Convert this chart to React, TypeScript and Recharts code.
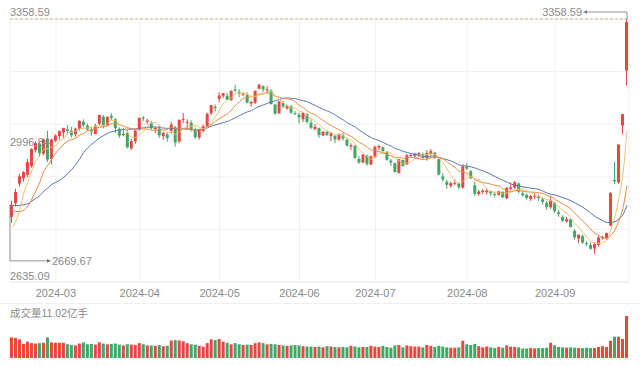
import React from 'react';
import {
  ComposedChart,
  BarChart,
  Bar,
  Line,
  XAxis,
  YAxis,
  CartesianGrid,
  ReferenceLine,
  ReferenceDot,
} from 'recharts';

// 上证指数 日K 2024-02-07 ~ 2024-09-30
const dates = [
  '2024-02-07', '2024-02-08', '2024-02-19', '2024-02-20', '2024-02-21', '2024-02-22', '2024-02-23', '2024-02-26', '2024-02-27', '2024-02-28', '2024-02-29',
  '2024-03-01', '2024-03-04', '2024-03-05', '2024-03-06', '2024-03-07', '2024-03-08', '2024-03-11', '2024-03-12', '2024-03-13', '2024-03-14', '2024-03-15', '2024-03-18', '2024-03-19', '2024-03-20', '2024-03-21', '2024-03-22', '2024-03-25', '2024-03-26', '2024-03-27', '2024-03-28', '2024-03-29',
  '2024-04-01', '2024-04-02', '2024-04-03', '2024-04-08', '2024-04-09', '2024-04-10', '2024-04-11', '2024-04-12', '2024-04-15', '2024-04-16', '2024-04-17', '2024-04-18', '2024-04-19', '2024-04-22', '2024-04-23', '2024-04-24', '2024-04-25', '2024-04-26', '2024-04-29', '2024-04-30',
  '2024-05-06', '2024-05-07', '2024-05-08', '2024-05-09', '2024-05-10', '2024-05-13', '2024-05-14', '2024-05-15', '2024-05-16', '2024-05-17', '2024-05-20', '2024-05-21', '2024-05-22', '2024-05-23', '2024-05-24', '2024-05-27', '2024-05-28', '2024-05-29', '2024-05-30', '2024-05-31',
  '2024-06-03', '2024-06-04', '2024-06-05', '2024-06-06', '2024-06-07', '2024-06-11', '2024-06-12', '2024-06-13', '2024-06-14', '2024-06-17', '2024-06-18', '2024-06-19', '2024-06-20', '2024-06-21', '2024-06-24', '2024-06-25', '2024-06-26', '2024-06-27', '2024-06-28',
  '2024-07-01', '2024-07-02', '2024-07-03', '2024-07-04', '2024-07-05', '2024-07-08', '2024-07-09', '2024-07-10', '2024-07-11', '2024-07-12', '2024-07-15', '2024-07-16', '2024-07-17', '2024-07-18', '2024-07-19', '2024-07-22', '2024-07-23', '2024-07-24', '2024-07-25', '2024-07-26', '2024-07-29', '2024-07-30', '2024-07-31',
  '2024-08-01', '2024-08-02', '2024-08-05', '2024-08-06', '2024-08-07', '2024-08-08', '2024-08-09', '2024-08-12', '2024-08-13', '2024-08-14', '2024-08-15', '2024-08-16', '2024-08-19', '2024-08-20', '2024-08-21', '2024-08-22', '2024-08-23', '2024-08-26', '2024-08-27', '2024-08-28', '2024-08-29', '2024-08-30',
  '2024-09-02', '2024-09-03', '2024-09-04', '2024-09-05', '2024-09-06', '2024-09-09', '2024-09-10', '2024-09-11', '2024-09-12', '2024-09-13', '2024-09-18', '2024-09-19', '2024-09-20', '2024-09-23', '2024-09-24', '2024-09-25', '2024-09-26', '2024-09-27', '2024-09-30',
];

const opens = [
  2795, 2834, 2890, 2905, 2915, 2940, 2985, 3004, 2975, 3018, 2960,
  3012, 3025, 3035, 3044, 3040, 3030, 3046, 3066, 3055, 3042, 3031, 3060, 3080, 3056, 3083, 3073, 3046, 3028, 3034, 2990, 3010,
  3044, 3078, 3066, 3063, 3045, 3047, 3025, 3030, 3040, 3050, 3010, 3072, 3064, 3063, 3044, 3021, 3040, 3052, 3090, 3109,
  3131, 3140, 3140, 3128, 3158, 3150, 3145, 3142, 3118, 3120, 3160, 3167, 3155, 3155, 3115, 3090, 3120, 3104, 3110, 3090,
  3086, 3073, 3088, 3063, 3045, 3048, 3027, 3037, 3025, 3025, 3015, 3028, 3015, 2995, 2997, 2960, 2950, 2970, 2944,
  2966, 2992, 2993, 2980, 2955, 2948, 2920, 2957, 2944, 2968, 2968, 2972, 2973, 2962, 2975, 2978, 2960, 2910, 2895, 2883, 2890, 2890, 2878,
  2938, 2925, 2885, 2860, 2866, 2865, 2868, 2860, 2858, 2866, 2848, 2875, 2879, 2890, 2862, 2858, 2846, 2853, 2853, 2845, 2835, 2822,
  2835, 2808, 2795, 2782, 2788, 2755, 2733, 2740, 2720, 2715, 2705, 2715, 2735, 2735, 2770, 2900, 2893, 3055, 3212,
];

const highs = [
  2841, 2875, 2918, 2925, 2960, 2990, 3010, 3008, 3018, 3040, 3018,
  3030, 3041, 3049, 3056, 3051, 3049, 3070, 3073, 3061, 3050, 3060, 3086, 3085, 3081, 3090, 3076, 3050, 3047, 3042, 3017, 3043,
  3077, 3082, 3075, 3068, 3052, 3055, 3037, 3035, 3066, 3054, 3072, 3091, 3073, 3070, 3050, 3045, 3058, 3092, 3114, 3115,
  3150, 3148, 3148, 3155, 3171, 3159, 3150, 3149, 3125, 3155, 3174.3, 3170, 3167, 3158, 3118, 3125, 3125, 3115, 3113, 3097,
  3091, 3094, 3090, 3073, 3060, 3050, 3040, 3042, 3036, 3030, 3033, 3035, 3018, 3005, 3000, 2968, 2974, 2972, 2970,
  2998, 3000, 2996, 2982, 2960, 2950, 2960, 2958, 2975, 2977, 2978, 2980, 2978, 2985, 2988, 2980, 2965, 2920, 2900, 2895, 2902, 2893, 2945,
  2948, 2928, 2895, 2872, 2875, 2875, 2870, 2865, 2870, 2868, 2880, 2893, 2897, 2893, 2870, 2862, 2858, 2862, 2858, 2850, 2840, 2855,
  2838, 2815, 2800, 2795, 2790, 2760, 2745, 2745, 2725, 2722, 2720, 2740, 2741, 2750, 2865, 2952, 3001, 3088, 3358.59,
];

const lows = [
  2778, 2825, 2880, 2895, 2908, 2935, 2978, 2965, 2970, 2951, 2944,
  3008, 3015, 3020, 3030, 3021, 3023, 3040, 3051, 3040, 3026, 3030, 3057, 3047, 3052, 3070, 3034, 3020, 3024, 2990, 2985, 3003,
  3040, 3068, 3059, 3044, 3033, 3020, 3014, 3009, 3032, 2995, 3005, 3062, 3045, 3038, 3017, 3015, 3035, 3050, 3085, 3095,
  3121, 3133, 3128, 3125, 3150, 3136, 3138, 3118, 3108, 3116, 3158, 3150, 3147, 3115, 3086, 3089, 3105, 3100, 3088, 3085,
  3061, 3065, 3060, 3045, 3042, 3020, 3025, 3025, 3010, 3005, 3012, 3012, 2995, 2985, 2960, 2946, 2948, 2940, 2943,
  2962, 2985, 2975, 2955, 2940, 2922, 2918, 2938, 2943, 2966, 2960, 2965, 2960, 2955, 2965, 2960, 2913, 2895, 2875, 2878, 2885, 2873, 2876,
  2928, 2902, 2855, 2855, 2860, 2858, 2855, 2850, 2855, 2848, 2845, 2870, 2875, 2862, 2853, 2844, 2840, 2845, 2840, 2830, 2815, 2818,
  2806, 2795, 2780, 2778, 2765, 2730, 2720, 2718, 2712, 2702, 2689.7, 2710, 2730, 2730, 2770, 2889, 2889, 3030, 3170,
];

const closes = [
  2829.7, 2865.9, 2910.5, 2922.7, 2951.0, 2988.4, 3004.9, 2977.0, 3015.5, 2957.9, 3015.2,
  3027.0, 3039.3, 3047.8, 3039.9, 3027.4, 3046.0, 3068.5, 3055.9, 3043.8, 3038.2, 3054.6, 3084.9, 3055.2, 3079.7, 3077.1, 3048.0, 3026.3, 3031.5, 2993.1, 3010.7, 3041.2,
  3077.4, 3075.0, 3069.3, 3047.1, 3048.5, 3027.3, 3034.3, 3019.5, 3057.4, 3007.1, 3071.4, 3074.2, 3065.3, 3044.6, 3022.0, 3044.8, 3052.9, 3088.6, 3113.0, 3104.8,
  3140.7, 3147.7, 3128.5, 3154.3, 3154.6, 3148.0, 3145.8, 3119.9, 3122.4, 3154.0, 3171.2, 3158.0, 3158.5, 3116.4, 3088.9, 3124.0, 3109.6, 3111.0, 3091.7, 3086.8,
  3078.5, 3091.2, 3065.4, 3048.8, 3051.3, 3028.1, 3037.5, 3028.9, 3032.6, 3015.9, 3030.3, 3018.1, 2998.1, 2999.0, 2963.1, 2950.0, 2972.5, 2945.9, 2967.4,
  2994.7, 2997.0, 2982.4, 2957.6, 2949.9, 2922.5, 2959.4, 2939.4, 2970.4, 2971.3, 2974.0, 2976.3, 2962.7, 2977.1, 2982.3, 2964.2, 2915.4, 2902.0, 2886.4, 2890.9, 2891.9, 2879.3, 2938.8,
  2932.4, 2905.3, 2860.7, 2867.3, 2869.8, 2869.9, 2862.2, 2858.2, 2868.0, 2850.7, 2877.4, 2879.4, 2893.7, 2866.7, 2856.6, 2848.8, 2854.4, 2855.5, 2848.7, 2837.4, 2823.1, 2842.2,
  2811.0, 2803.0, 2784.3, 2788.3, 2765.8, 2736.5, 2744.2, 2721.8, 2717.1, 2704.1, 2717.3, 2736.0, 2736.8, 2748.9, 2863.1, 2896.3, 3001.0, 3087.5, 3350.0,
];

// 成交量（亿手）
const volumes = [
  5.4, 5.3, 4.9, 3.7, 4.3, 3.9, 3.8, 3.9, 4.0, 5.4, 4.1,
  4.0, 4.0, 4.0, 3.6, 3.4, 3.3, 3.8, 4.1, 3.6, 3.7, 3.5, 4.1, 3.8, 3.6, 3.7, 3.8, 3.5, 3.3, 3.6, 3.5, 3.4,
  3.9, 3.6, 3.3, 3.3, 3.2, 3.4, 3.1, 3.2, 4.6, 4.7, 4.6, 4.4, 3.9, 3.6, 3.5, 3.2, 3.0, 3.9, 4.9, 4.7,
  5.0, 4.3, 4.0, 3.6, 3.9, 3.6, 3.4, 3.5, 3.4, 3.9, 4.1, 3.9, 3.6, 3.7, 3.6, 3.4, 3.3, 3.2, 3.3, 3.4,
  3.3, 3.1, 3.0, 3.0, 2.9, 3.0, 2.8, 3.1, 3.0, 2.9, 2.8, 2.9, 2.8, 3.2, 3.0, 2.8, 2.9, 2.9, 3.2,
  3.0, 2.9, 3.2, 2.9, 2.7, 3.3, 3.4, 2.8, 3.3, 3.1, 3.0, 3.0, 2.8, 3.4, 3.2, 2.9, 3.2, 3.0, 2.8, 2.7, 2.7, 2.8, 4.5,
  3.6, 3.4, 3.7, 3.1, 2.8, 3.0, 2.8, 2.6, 2.9, 2.7, 3.3, 3.0, 2.9, 2.8, 2.5, 2.5, 2.6, 2.5, 2.6, 2.6, 2.7, 4.0,
  3.3, 2.9, 2.8, 2.7, 2.8, 2.7, 2.6, 2.6, 2.7, 2.6, 2.6, 2.9, 3.1, 2.9, 4.5, 5.6, 5.6, 5.0, 11.02,
];

// closes before the window, needed for the moving averages at the left edge
const preCloses = [
  2886.7, 2882.0, 2886.3, 2894.0, 2833.6, 2845.8, 2832.3, 2756.3, 2770.7, 2820.8,
  2906.1, 2910.2, 2883.4, 2830.5, 2788.6, 2770.7, 2730.2, 2702.2, 2789.5,
];

const axisMin = 2635.09;
const axisMid = 2996.84;
const minMark = 2669.67;

const UP = '#e8473e';
const DOWN = '#3fa865';
const FONT = '"Liberation Sans", "Noto Sans CJK SC", sans-serif';
const TEXT = '#8a8a8a';

const allCloses = [...preCloses, ...closes];
const movingAvg = (n: number, i: number) => {
  const end = preCloses.length + i;
  let s = 0;
  for (let k = end - n + 1; k <= end; k++) s += allCloses[k];
  return s / n;
};

const rows = dates.map((d, i) => ({
  date: d,
  open: opens[i],
  high: highs[i],
  low: lows[i],
  close: closes[i],
  range: [lows[i], highs[i]],
  volume: volumes[i],
  ma5: movingAvg(5, i),
  ma10: movingAvg(10, i),
  ma20: movingAvg(20, i),
}));

const maxHigh = Math.max(...highs);
const last = rows.length - 1;
const monthTicks = dates.filter((d, i) => i > 0 && d.slice(5, 7) !== dates[i - 1].slice(5, 7));

const Candle = (props: any) => {
  const { x, y, width, height, payload } = props;
  if (!payload || height == null) return null;
  const { open, close, high, low } = payload;
  const color = close >= open ? UP : DOWN;
  const top = Math.min(y, y + height);
  const h = Math.abs(height);
  const unit = high > low ? h / (high - low) : 0;
  const bodyTop = top + (high - Math.max(open, close)) * unit;
  const bodyH = Math.max(1, Math.abs(open - close) * unit);
  const cx = x + width / 2;
  return (
    <g>
      <line x1={cx} x2={cx} y1={top} y2={top + h} stroke={color} strokeWidth={1} />
      <rect x={x} y={bodyTop} width={width} height={bodyH} fill={color} />
    </g>
  );
};

const VolBar = (props: any) => {
  const { x, y, width, height, payload } = props;
  if (!payload) return null;
  return <rect x={x} y={y} width={width} height={height} fill={payload.close >= payload.open ? UP : DOWN} />;
};

// bottom label sits under its line, middle one on it, top one above it
const YTick = (props: any) => {
  const { x, y, payload, index } = props;
  const dy = [7, 0, -3][index] ?? 0;
  return (
    <text x={x} y={y + dy} textAnchor="start" fontSize={11} fill={TEXT} fontFamily={FONT}>
      {payload.value.toFixed(2)}
    </text>
  );
};

const MaxMark = (props: any) => {
  const { cx, cy } = props;
  const ly = cy - 7;
  return (
    <g>
      <polyline points={`${cx},${cy} ${cx},${ly} ${cx - 42},${ly}`} fill="none" stroke="#777" strokeWidth={0.8} />
      <path d={`M${cx - 44},${ly} l4,-1.8 v3.6 z`} fill="#777" />
      <text x={cx - 45} y={ly + 4} textAnchor="end" fontSize={11} fill={TEXT} fontFamily={FONT}>
        {maxHigh.toFixed(2)}
      </text>
    </g>
  );
};

const MinMark = (props: any) => {
  const { x1, y1, y2 } = props;
  const x = x1 - 2;
  return (
    <g>
      <polyline points={`${x},${y1} ${x},${y2} ${x + 39},${y2}`} fill="none" stroke="#777" strokeWidth={0.8} />
      <path d={`M${x + 41},${y2} l-4,-1.8 v3.6 z`} fill="#777" />
      <text x={x + 42} y={y2 + 4} textAnchor="start" fontSize={11} fill={TEXT} fontFamily={FONT}>
        {minMark.toFixed(2)}
      </text>
    </g>
  );
};

const App: React.FC = () => {
  return (
    <div style={{ position: 'absolute', left: 0, top: 0, width: 640, height: 366, background: '#fff', fontFamily: FONT }}>
      <ComposedChart width={640} height={305} data={rows} margin={{ top: 19, right: 11, left: 10, bottom: 0 }}>
        <CartesianGrid
          stroke="#f0f0f0"
          horizontalCoordinatesGenerator={({ offset }: any) =>
            [0, 1, 2, 3, 4, 5].map((k) => offset.top + (offset.height * k) / 5)
          }
        />
        <XAxis
          dataKey="date"
          ticks={monthTicks}
          interval={0}
          tickFormatter={(v: string) => v.slice(0, 7)}
          tick={{ fontSize: 11, fill: TEXT, fontFamily: FONT }}
          tickLine={false}
          tickSize={0}
          tickMargin={7}
          axisLine={{ stroke: '#ededed' }}
          height={23}
        />
        <YAxis
          domain={[axisMin, maxHigh]}
          ticks={[axisMin, axisMid, maxHigh]}
          padding={{ bottom: 9 }}
          mirror
          axisLine={false}
          tickLine={false}
          tickSize={0}
          tickMargin={0}
          tick={<YTick />}
          allowDataOverflow
        />
        <ReferenceLine y={maxHigh} stroke="#dcae8a" strokeDasharray="3 2" />
        <Bar dataKey="range" barSize={3} shape={(p: any) => <Candle {...p} />} isAnimationActive={false} />
        <Line type="monotone" dataKey="ma20" stroke="#5f72b6" strokeWidth={1} dot={false} isAnimationActive={false} />
        <Line type="monotone" dataKey="ma10" stroke="#e8883f" strokeWidth={1} dot={false} isAnimationActive={false} />
        <Line type="monotone" dataKey="ma5" stroke="#efc06a" strokeWidth={1} dot={false} isAnimationActive={false} />
        <ReferenceLine
          segment={[
            { x: dates[0], y: closes[0] },
            { x: dates[0], y: minMark },
          ]}
          shape={(p: any) => <MinMark {...p} />}
        />
        <ReferenceDot x={dates[last]} y={maxHigh} r={0} shape={(p: any) => <MaxMark {...p} />} />
      </ComposedChart>
      <div style={{ position: 'absolute', left: 0, top: 303, width: 640, height: 1, background: '#f0f0f0' }} />
      <div style={{ position: 'absolute', left: 10, top: 306, fontSize: 10.5, color: TEXT, lineHeight: '14px' }}>
        成交量{volumes[last]}亿手
      </div>
      <BarChart width={640} height={61} data={rows} margin={{ top: 11, right: 11, left: 10, bottom: 8 }}>
        <XAxis dataKey="date" hide />
        <YAxis domain={[0, Math.max(...volumes)]} hide />
        <Bar dataKey="volume" barSize={3} shape={(p: any) => <VolBar {...p} />} isAnimationActive={false} />
      </BarChart>
    </div>
  );
};

export default App;
